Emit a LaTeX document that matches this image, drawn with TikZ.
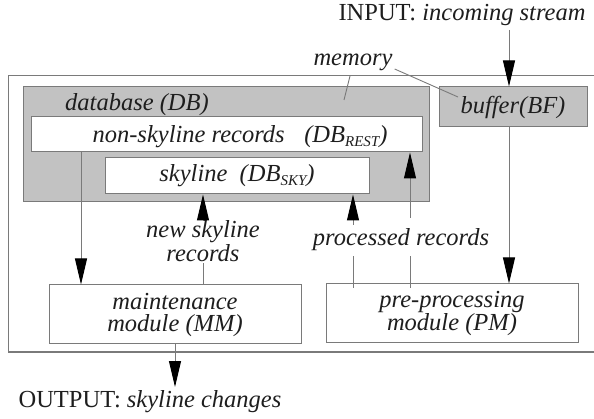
\documentclass[tikz,border=0pt]{standalone}
\usepackage{fontspec}
\setmainfont{Liberation Serif}
\usetikzlibrary{arrows.meta}
\definecolor{edge}{HTML}{7A7A7A}
\definecolor{dbfill}{HTML}{C2C2C2}
\definecolor{ink}{HTML}{1E1E1E}
\newcommand\diafont{\fontsize{24.5}{22}\selectfont\itshape}
\newcommand\lowidx[1]{\raisebox{-0.35ex}{\fontsize{15}{15}\selectfont #1}}
\begin{document}
\begin{tikzpicture}[x=1pt,y=-1pt,
  box/.style={draw=edge, line width=1pt, fill=white, rectangle, inner sep=0pt},
  graybox/.style={box, fill=dbfill},
  lbl/.style={inner sep=0pt, text=ink, font=\diafont, align=center},
  arr/.style={draw=edge, line width=1pt, -{Triangle[length=26pt,width=12pt,color=black]}},
  link/.style={draw=edge, line width=0.9pt}]
\useasboundingbox (0,0) rectangle (594,419);

% memory region (open to the right)
\draw[edge, line width=1pt] (596,76) -| (8,352) -- (596,352);

% database and its two parts
\node[graybox, minimum width=406pt, minimum height=115pt] (db) at (226,144.5) {};
\node[lbl, anchor=base west] (dblbl) at (65,111) {database (DB)};
\node[box, minimum width=391pt, minimum height=35pt] (nsk) at (226.5,134.5) {};
\node[lbl, anchor=base] (nsklbl) at (240,143) {non-skyline records\hspace{0.8em}(DB\lowidx{REST})};
\node[box, minimum width=264pt, minimum height=36pt, lbl, draw=edge, fill=white] (sky) at (237,176) {skyline\hspace{0.5em}(DB\lowidx{SKY})};

% buffer
\node[graybox, minimum width=148pt, minimum height=40pt, lbl, draw=edge] (buf) at (513,107) {buffer(BF)};

% modules
\node[box, minimum width=252pt, minimum height=59pt, lbl, draw=edge, fill=white] (mm) at (175,314.5) {maintenance\\module (MM)};
\node[box, minimum width=252pt, minimum height=59pt, lbl, draw=edge, fill=white] (pm) at (452,313.5) {pre-processing\\module (PM)};

% free texts
\node[lbl] (inp) at (462,15) {\upshape INPUT: \itshape incoming stream};
\node[lbl] (outp) at (150,402) {\upshape OUTPUT: \itshape skyline changes};
\node[lbl] (mem) at (353,62) {memory};
\node[lbl] (nsr) at (203,241) {new skyline\\records};
\node[lbl] (proc) at (401,240) {processed records};

% memory pointers
\coordinate (memdb) at (344,100);
\coordinate (membf) at (458,97);
\draw[link] (350,76) -- (memdb);
\draw[link] (mem.east) ++(2,7) -- (membf);

% input / output
\coordinate (cin) at (509,30);
\coordinate (cout) at (175,387);
\draw[arr] (cin) -- (buf.north -| cin);
\draw[arr] (mm.south -| cout) -- (cout);

% buffer to pre-processing
\draw[arr] (buf.south -| cin) -- (pm.north -| cin);

% non-skyline records to maintenance
\coordinate (xa) at (81,0);
\draw[arr] (nsk.south -| xa) -- (mm.north -| xa);

% new skyline records
\coordinate (xn) at (203,0);
\draw[arr] (xn |- nsr.north) ++(0,-5) coordinate (nsrtop) -- (sky.south -| xn);
\draw[link] (xn |- nsr.south) ++(0,2) -- (mm.north -| xn);

% processed records
\coordinate (xp) at (353,0);
\coordinate (xq) at (410,0);
\draw[arr] (xp |- proc.north) ++(0,-4) -- (sky.south -| xp);
\draw[arr] (xq |- proc.north) ++(0,-11) -- (nsk.south -| xq);
\draw[link] (xp |- proc.south) ++(0,5) -- ([yshift=-5pt]pm.north -| xp);
\draw[link] (xq |- proc.south) ++(0,5) -- ([yshift=-5pt]pm.north -| xq);
\end{tikzpicture}
\end{document}
